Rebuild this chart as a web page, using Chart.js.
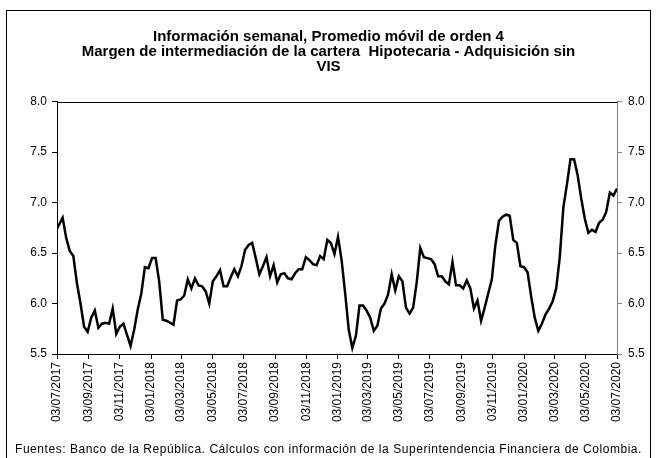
<!DOCTYPE html>
<html>
<head>
  <style>
    body {
      margin: 0;
      background: #fff;
    }

    .chart-container {
      position: relative;
      width: 657px;
      height: 458px;
      overflow: hidden;
    }

    .frame {
      position: absolute;
      left: 6px;
      top: 10px;
      width: 645px;
      height: 470px;
      border: 1px solid #000;
      box-sizing: border-box;
    }

    #marginChart {
      position: absolute;
      left: 0;
      top: 0;
    }

    .source {
      position: absolute;
      left: 15px;
      top: 442px;
      font-family: Arial, "Liberation Sans", sans-serif;
      font-size: 12px;
      letter-spacing: 0.55px;
      color: #000;
      white-space: nowrap;
    }
  </style>
  <script src="https://cdn.jsdelivr.net/npm/chart.js"></script>
</head>
<body>
  <div class="chart-container">
    <div class="frame"></div>
    <canvas id="marginChart" width="657" height="458"></canvas>
    <div class="source">Fuentes: Banco de la República. Cálculos con información de la Superintendencia Financiera de Colombia.</div>
  </div>

  <script>
    // weekly observations (Fridays), first one 30/06/2017
    const firstWeek = '2017-06-30';
    const marginValues = [
      6.71, 6.78, 6.85, 6.65, 6.52, 6.47, 6.20, 6.00, 5.77, 5.72,
      5.86, 5.93, 5.76, 5.80, 5.81, 5.80, 5.95, 5.70, 5.77, 5.80,
      5.69, 5.58, 5.74, 5.94, 6.10, 6.36, 6.35, 6.45, 6.45, 6.22,
      5.84, 5.83, 5.81, 5.79, 6.03, 6.04, 6.08, 6.24, 6.15, 6.25,
      6.18, 6.17, 6.12, 6.00, 6.22, 6.27, 6.33, 6.17, 6.17, 6.26,
      6.34, 6.27, 6.37, 6.53, 6.58, 6.60, 6.45, 6.29, 6.37, 6.46,
      6.27, 6.38, 6.21, 6.29, 6.30, 6.25, 6.24, 6.30, 6.34, 6.34,
      6.46, 6.43, 6.39, 6.38, 6.47, 6.44, 6.63, 6.60, 6.49, 6.66,
      6.43, 6.10, 5.74, 5.56, 5.68, 5.98, 5.98, 5.93, 5.86, 5.73,
      5.78, 5.95, 6.00, 6.09, 6.29, 6.13, 6.27, 6.22, 5.96, 5.90,
      5.96, 6.21, 6.55, 6.46, 6.45, 6.44, 6.39, 6.27, 6.27, 6.22,
      6.19, 6.41, 6.18, 6.18, 6.15, 6.23, 6.15, 5.95, 6.03, 5.83,
      5.96, 6.10, 6.24, 6.58, 6.82, 6.86, 6.88, 6.87, 6.63, 6.60,
      6.37, 6.36, 6.31, 6.07, 5.86, 5.73, 5.80, 5.89, 5.95, 6.02,
      6.15, 6.46, 6.95, 7.18, 7.43, 7.43, 7.27, 7.04, 6.84, 6.70,
      6.73, 6.71, 6.80, 6.83, 6.91, 7.10, 7.07, 7.14
    ];
    const tickLabels = [
      '03/07/2017', '03/09/2017', '03/11/2017', '03/01/2018', '03/03/2018',
      '03/05/2018', '03/07/2018', '03/09/2018', '03/11/2018', '03/01/2019',
      '03/03/2019', '03/05/2019', '03/07/2019', '03/09/2019', '03/11/2019',
      '03/01/2020', '03/03/2020', '03/05/2020', '03/07/2020'
    ];
    const yTicks = [5.5, 6.0, 6.5, 7.0, 7.5, 8.0];
    const chartTitle = [
      'Información semanal, Promedio móvil de orden 4',
      'Margen de intermediación de la cartera  Hipotecaria - Adquisición sin',
      'VIS'
    ];

    document.addEventListener('DOMContentLoaded', function() {
      const DAY = 86400000;
      const parseLabel = s => {
        const [d, m, y] = s.split('/').map(Number);
        return Date.UTC(y, m - 1, d);
      };
      const origin = parseLabel(tickLabels[0]);
      const tickDays = tickLabels.map(l => (parseLabel(l) - origin) / DAY);
      const start = (Date.parse(firstWeek) - origin) / DAY;
      const points = marginValues.map((v, i) => ({ x: start + i * 7, y: v }));

      const font = { family: 'Arial, "Liberation Sans", sans-serif', size: 12 };

      // closes the plot box on top
      const topLine = {
        id: 'topLine',
        afterDraw(chart) {
          const a = chart.chartArea;
          const c = chart.ctx;
          c.save();
          c.strokeStyle = '#000';
          c.lineWidth = 1;
          c.beginPath();
          c.moveTo(a.left, Math.round(a.top) + 0.5);
          c.lineTo(a.right, Math.round(a.top) + 0.5);
          c.stroke();
          c.restore();
        }
      };

      const yAxis = (pos, color, width, pad) => ({
        type: 'linear',
        position: pos,
        min: 5.5,
        max: 8.0,
        afterBuildTicks: s => { s.ticks = yTicks.map(v => ({ value: v })); },
        afterFit: s => { s.width = width; },
        ticks: {
          color: '#000',
          font: font,
          padding: pad,
          callback: v => v.toFixed(1)
        },
        grid: { drawOnChartArea: false, drawTicks: true, tickLength: 5, color: color },
        border: { display: true, color: color, width: 1 }
      });

      const config = {
        type: 'line',
        data: {
          datasets: [{
            data: points,
            borderColor: '#000',
            borderWidth: 2.5,
            pointRadius: 0,
            tension: 0,
            fill: false
          }]
        },
        options: {
          responsive: false,
          animation: false,
          layout: { padding: 0 },
          scales: {
            x: {
              type: 'linear',
              min: 0,
              max: tickDays[tickDays.length - 1],
              afterBuildTicks: s => { s.ticks = tickDays.map(v => ({ value: v })); },
              afterFit: s => { s.height = 104; },
              ticks: {
                color: '#000',
                font: font,
                padding: 3,
                autoSkip: false,
                minRotation: 90,
                maxRotation: 90,
                callback: (v, i) => tickLabels[i]
              },
              grid: { drawOnChartArea: false, drawTicks: true, tickLength: 5, color: '#000' },
              border: { display: true, color: '#000', width: 1 }
            },
            y: yAxis('left', '#000', 57, 5),
            y2: yAxis('right', '#808080', 40, 6)
          },
          plugins: {
            legend: { display: false },
            tooltip: { enabled: false },
            title: {
              display: true,
              text: chartTitle,
              color: '#000',
              font: { family: 'Arial, "Liberation Sans", sans-serif', size: 15, weight: 'bold', lineHeight: 0.97 },
              padding: { top: 30, bottom: 28 }
            }
          }
        },
        plugins: [topLine]
      };

      new Chart(document.getElementById('marginChart').getContext('2d'), config);
    });
  </script>
</body>
</html>
